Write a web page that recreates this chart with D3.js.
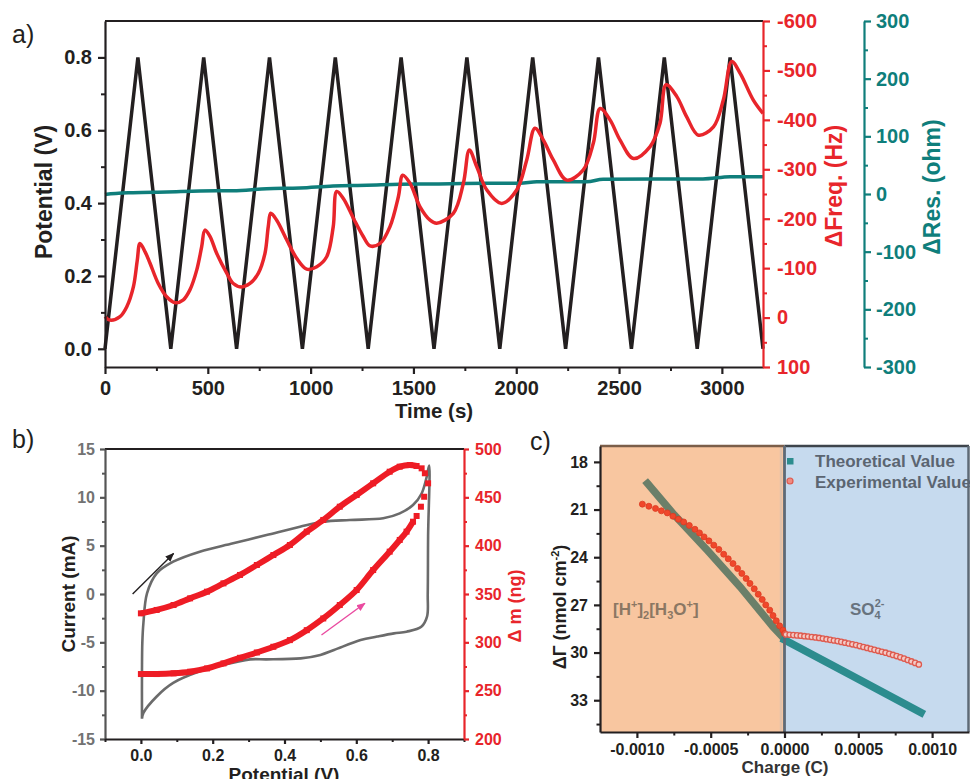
<!DOCTYPE html>
<html>
<head>
<meta charset="utf-8">
<script src="https://cdn.jsdelivr.net/npm/d3@7"></script>
<style>
body { margin: 0; background: #fff; }
svg { display: block; }
</style>
</head>
<body>
<svg id="chart" width="970" height="779"></svg>
<script>
// ---- panel a: potential / frequency / resistance vs time ----
var triTime = [0, 160, 320, 480, 640, 800, 960, 1120, 1280, 1440, 1600, 1760, 1920, 2080, 2240, 2400, 2560, 2720, 2880, 3040, 3200];
var triPot = [0, 0.8, 0, 0.8, 0, 0.8, 0, 0.8, 0, 0.8, 0, 0.8, 0, 0.8, 0, 0.8, 0, 0.8, 0, 0.8, 0];

var freqTime = [0, 24, 73, 106, 138, 157, 170, 195, 219, 259, 300, 340, 381, 413, 446, 470, 486, 511, 543, 592, 624, 665, 705, 746, 778, 794, 806, 835, 884, 932, 981, 1030, 1078, 1110, 1127, 1159, 1208, 1256, 1289, 1338, 1386, 1427, 1448, 1483, 1532, 1581, 1613, 1694, 1743, 1772, 1808, 1857, 1929, 2002, 2051, 2091, 2132, 2180, 2246, 2326, 2375, 2408, 2456, 2505, 2570, 2651, 2699, 2729, 2781, 2829, 2886, 2959, 3007, 3048, 3089, 3153, 3200];
var freqVal = [-2, 5, -2, -22, -62, -116, -150, -133, -110, -69, -42, -30, -36, -56, -96, -143, -177, -164, -130, -90, -69, -62, -69, -90, -130, -184, -211, -197, -157, -120, -98, -103, -123, -184, -255, -241, -201, -164, -145, -150, -184, -245, -288, -272, -224, -197, -191, -211, -272, -339, -305, -258, -231, -258, -319, -383, -359, -319, -278, -299, -353, -423, -400, -359, -322, -346, -393, -471, -447, -406, -369, -386, -440, -518, -494, -440, -413];

var resTime = [0, 8, 136, 300, 462, 623, 786, 948, 1109, 1273, 1435, 1581, 1857, 2018, 2100, 2343, 2422, 2665, 2908, 3040, 3200];
var resVal = [-1, -0.5, 2.3, 3.5, 5.2, 5.7, 9.2, 10.4, 13.9, 15.1, 16.8, 17.3, 18.5, 18.5, 21.3, 21.3, 25.5, 26, 26, 30, 30];

var aPotTicks = [0, 0.2, 0.4, 0.6, 0.8];
var aTimeTicks = [0, 500, 1000, 1500, 2000, 2500, 3000];
var freqTicks = [-600, -500, -400, -300, -200, -100, 0, 100];
var resTicks = [-300, -200, -100, 0, 100, 200, 300];

// ---- panel b: CV and mass change ----
var cvPot = [0.003, 0.003, 0.004, 0.007, 0.017, 0.044, 0.09, 0.164, 0.257, 0.35, 0.443, 0.508, 0.582, 0.675, 0.721, 0.758, 0.782, 0.796, 0.803, 0.8, 0.799, 0.797, 0.781, 0.74, 0.705, 0.658, 0.612, 0.538, 0.5, 0.445, 0.35, 0.304, 0.212, 0.164, 0.09, 0.044, 0.007, 0.003];
var cvCur = [-12.9, -8, -5, -3.0, 0.07, 2.14, 3.34, 4.38, 5.24, 6.1, 6.96, 7.48, 7.66, 7.83, 8.34, 9.2, 10.4, 12.1, 13.3, 6, 0, -2.35, -3.4, -3.9, -4.07, -4.4, -4.76, -5.79, -6.3, -6.66, -6.76, -6.76, -7.5, -8.0, -9.2, -10.6, -12.3, -12.9];

var massPotLow = [0, 0.044, 0.091, 0.137, 0.184, 0.23, 0.276, 0.323, 0.369, 0.415, 0.462, 0.508, 0.554, 0.601, 0.647, 0.693, 0.721, 0.74, 0.758];
var massLow = [267.2, 267.2, 267.9, 269.6, 273, 278.2, 284, 289.5, 295.4, 302.3, 312.6, 324.7, 338.6, 354.1, 374.8, 393.8, 405.9, 414.5, 424.8];
var massPotTurn = [0.768, 0.78, 0.789, 0.8, 0.791, 0.782];
var massTurn = [430.7, 440.3, 450.6, 464.5, 474.9, 480];
var massPotUp = [0.768, 0.749, 0.721, 0.693, 0.647, 0.601, 0.554, 0.508, 0.462, 0.415, 0.369, 0.323, 0.276, 0.23, 0.184, 0.137, 0.091, 0.044, 0];
var massUp = [482.4, 483.4, 481.7, 476.5, 464.5, 452.4, 440.3, 426.6, 414.5, 400.7, 390.3, 380, 369.7, 361, 352.4, 345.5, 338.6, 333.5, 330];

var bCurTicks = [-15, -10, -5, 0, 5, 10, 15];
var bPotTicks = [0, 0.2, 0.4, 0.6, 0.8];
var bMassTicks = [200, 250, 300, 350, 400, 450, 500];

// ---- panel c: surface excess vs charge ----
var theoQL = [-0.000928, -0.000746, -0.000523, -0.0003, -0.000078, 0];
var theoGL = [19.36, 21.35, 23.56, 25.87, 28.38, 29.15];
var theoQR = [0, 0.000456, 0.000925];
var theoGR = [29.2, 31.45, 33.78];

var expQL = [-0.000963, -0.000919, -0.000874, -0.000834, -0.000794, -0.000756, -0.000719, -0.000683, -0.000645, -0.000607, -0.000576, -0.000545, -0.000512, -0.000479, -0.000445, -0.000412, -0.000381, -0.000349, -0.000318, -0.000289, -0.00026, -0.000234, -0.000205, -0.000178, -0.000151, -0.000127, -0.0001, -0.000078, -0.000056, -0.000033, -0.000011, 0];
var expGL = [20.66, 20.79, 20.93, 21.08, 21.21, 21.42, 21.61, 21.78, 22.0, 22.24, 22.47, 22.72, 22.97, 23.24, 23.51, 23.81, 24.1, 24.4, 24.71, 25.02, 25.34, 25.65, 25.99, 26.33, 26.66, 27.0, 27.33, 27.67, 28.0, 28.32, 28.59, 28.8];
var expQR = [0.00001, 0.000035, 0.00006, 0.000085, 0.00011, 0.000135, 0.00016, 0.000185, 0.00021, 0.000235, 0.00026, 0.000285, 0.00031, 0.000335, 0.00036, 0.000385, 0.00041, 0.000435, 0.00046, 0.000485, 0.00051, 0.000535, 0.00056, 0.000585, 0.00061, 0.000635, 0.00066, 0.000685, 0.00071, 0.000735, 0.00076, 0.000785, 0.00081, 0.000835, 0.00086, 0.000885, 0.00091];
var expGR = [28.86, 28.88, 28.9, 28.92, 28.94, 28.97, 28.99, 29.02, 29.05, 29.08, 29.12, 29.16, 29.2, 29.24, 29.28, 29.33, 29.38, 29.43, 29.48, 29.53, 29.59, 29.65, 29.71, 29.77, 29.83, 29.89, 29.95, 30.01, 30.08, 30.15, 30.22, 30.3, 30.38, 30.47, 30.56, 30.65, 30.75];

var cGammaTicks = [18, 21, 24, 27, 30, 33];
var cChargeTicks = [-0.001, -0.0005, 0, 0.0005, 0.001];

var FONT = "'Liberation Sans', Arial, sans-serif";
var RED = "#e8252b";
var TEAL = "#0f7e7b";

var svg = d3.select("#chart");

function zip(xs, ys) { return xs.map(function (x, i) { return [x, ys[i]]; }); }

function styleAxis(g, color, fs, labelColor) {
    g.attr("font-family", FONT).attr("font-size", fs).attr("font-weight", "bold");
    g.select(".domain").attr("stroke", color).attr("stroke-width", 2.2);
    g.selectAll(".tick line").attr("stroke", color).attr("stroke-width", 2.2);
    g.selectAll(".tick text").attr("fill", labelColor || color);
}

function minorTicks(parent, axisFn, scale, vals, size, color) { // short unlabelled ticks
    parent.append("g")
        .call(axisFn(scale).tickValues(vals).tickSize(size).tickFormat(""))
        .call(function (g) {
            g.select(".domain").remove();
            g.selectAll("line").attr("stroke", color).attr("stroke-width", 2);
        });
}

function label(x, y, txt, fs, color, rotate, weight) {
    var t = svg.append("text")
        .attr("font-family", FONT).attr("font-size", fs)
        .attr("font-weight", weight || "bold").attr("fill", color)
        .attr("text-anchor", "middle")
        .attr("transform", "translate(" + x + "," + y + ")" + (rotate ? " rotate(-90)" : ""));
    t.text(txt);
    return t;
}

// =========================== panel a ===========================
var xA = d3.scaleLinear().domain([0, 3200]).range([105, 763]);
var yA = d3.scaleLinear().domain([-0.05, 0.9]).range([367, 21]);
var yF = d3.scaleLinear().domain([100, -600]).range([367, 21]);
var yR = d3.scaleLinear().domain([-300, 300]).range([367, 21]);

svg.append("line").attr("x1", 105).attr("x2", 763).attr("y1", 21).attr("y2", 21)
    .attr("stroke", "#231f20").attr("stroke-width", 2.2);

svg.append("path")
    .datum(zip(triTime, triPot))
    .attr("fill", "none").attr("stroke", "#231f20").attr("stroke-width", 3.5)
    .attr("d", d3.line().x(function (d) { return xA(d[0]); }).y(function (d) { return yA(d[1]); }));

svg.append("path")
    .datum(zip(resTime, resVal))
    .attr("fill", "none").attr("stroke", TEAL).attr("stroke-width", 3.5)
    .attr("d", d3.line().curve(d3.curveMonotoneX).x(function (d) { return xA(d[0]); }).y(function (d) { return yR(d[1]); }));

svg.append("path")
    .datum(zip(freqTime, freqVal))
    .attr("fill", "none").attr("stroke", RED).attr("stroke-width", 3.5)
    .attr("d", d3.line().curve(d3.curveCatmullRom.alpha(0.5)).x(function (d) { return xA(d[0]); }).y(function (d) { return yF(d[1]); }));

var gAL = svg.append("g").attr("transform", "translate(105,0)");
gAL.call(d3.axisLeft(yA).tickValues(aPotTicks).tickFormat(d3.format(".1f")).tickSize(7).tickPadding(6).tickSizeOuter(0));
styleAxis(gAL, "#231f20", 20);
minorTicks(gAL, d3.axisLeft, yA, [0.1, 0.3, 0.5, 0.7], 4, "#231f20");

var gAB = svg.append("g").attr("transform", "translate(0,367)");
gAB.call(d3.axisBottom(xA).tickValues(aTimeTicks).tickFormat(String).tickSize(7).tickPadding(7).tickSizeOuter(0));
styleAxis(gAB, "#231f20", 20);
minorTicks(gAB, d3.axisBottom, xA, [250, 750, 1250, 1750, 2250, 2750], 4, "#231f20");

var gAF = svg.append("g").attr("transform", "translate(763,0)");
gAF.call(d3.axisRight(yF).tickValues(freqTicks).tickFormat(String).tickSize(7).tickPadding(7).tickSizeOuter(0));
styleAxis(gAF, RED, 20);
minorTicks(gAF, d3.axisRight, yF, [-550, -450, -350, -250, -150, -50, 50], 4, RED);

var gAR = svg.append("g").attr("transform", "translate(864,0)");
gAR.call(d3.axisRight(yR).tickValues(resTicks).tickFormat(String).tickSize(7).tickPadding(5).tickSizeOuter(0));
styleAxis(gAR, TEAL, 20);
minorTicks(gAR, d3.axisRight, yR, [-250, -150, -50, 50, 150, 250], 4, TEAL);

label(12, 43, "a)", 25, "#231f20", false, "normal").attr("text-anchor", "start");
label(52, 192, "Potential (V)", 23, "#231f20", true);
label(434, 418, "Time (s)", 20.5, "#231f20", false);
label(842, 186, "\u0394Freq. (Hz)", 23, RED, true);
label(940, 187, "\u0394Res. (ohm)", 23, TEAL, true);

// =========================== panel b ===========================
var xB = d3.scaleLinear().domain([-0.1, 0.9]).range([105, 464]);
var yB = d3.scaleLinear().domain([-15, 15]).range([739, 449]);
var yM = d3.scaleLinear().domain([200, 500]).range([739, 449]);

svg.append("line").attr("x1", 105).attr("x2", 464).attr("y1", 449).attr("y2", 449)
    .attr("stroke", "#231f20").attr("stroke-width", 2);

svg.append("path")
    .datum(zip(cvPot, cvCur))
    .attr("fill", "none").attr("stroke", "#6b6b6b").attr("stroke-width", 2.6)
    .attr("d", d3.line().curve(d3.curveCatmullRom.alpha(0.5)).x(function (d) { return xB(d[0]); }).y(function (d) { return yB(d[1]); }));

var massLine = d3.line().curve(d3.curveCatmullRom.alpha(0.5))
    .x(function (d) { return xB(d[0]); }).y(function (d) { return yM(d[1]); });
[zip(massPotLow, massLow), zip(massPotUp, massUp)].forEach(function (branch) {
    svg.append("path").datum(branch)
        .attr("fill", "none").attr("stroke", "#ee1c25").attr("stroke-width", 6)
        .attr("d", massLine);
});
var massPts = zip(massPotLow, massLow).concat(zip(massPotTurn, massTurn), zip(massPotUp, massUp));
svg.append("g").selectAll("rect").data(massPts).join("rect")
    .attr("x", function (d) { return xB(d[0]) - 3; })
    .attr("y", function (d) { return yM(d[1]) - 3; })
    .attr("width", 6).attr("height", 6).attr("fill", "#ee1c25");

var defs = svg.append("defs");
[["arrBlack", "#231f20"], ["arrPink", "#ea4aa0"]].forEach(function (m) {
    defs.append("marker").attr("id", m[0]).attr("viewBox", "0 0 10 10")
        .attr("refX", 9).attr("refY", 5).attr("markerWidth", 9).attr("markerHeight", 9)
        .attr("markerUnits", "userSpaceOnUse").attr("orient", "auto")
        .append("path").attr("d", "M0,1 L10,5 L0,9 Z").attr("fill", m[1]);
});
svg.append("line")
    .attr("x1", xB(-0.023)).attr("y1", yB(0.0)).attr("x2", xB(0.091)).attr("y2", yB(4.2))
    .attr("stroke", "#231f20").attr("stroke-width", 1.4).attr("marker-end", "url(#arrBlack)");
svg.append("line")
    .attr("x1", xB(0.503)).attr("y1", yB(-4.24)).attr("x2", xB(0.624)).attr("y2", yB(-0.96))
    .attr("stroke", "#ea4aa0").attr("stroke-width", 1.4).attr("marker-end", "url(#arrPink)");

var gBL = svg.append("g").attr("transform", "translate(105,0)");
gBL.call(d3.axisLeft(yB).tickValues(bCurTicks).tickFormat(String).tickSize(5).tickPadding(5).tickSizeOuter(0));
styleAxis(gBL, "#555", 16, "#727272");
minorTicks(gBL, d3.axisLeft, yB, [-12.5, -7.5, -2.5, 2.5, 7.5, 12.5], 3, "#555");

var gBB = svg.append("g").attr("transform", "translate(0,739)");
gBB.call(d3.axisBottom(xB).tickValues(bPotTicks).tickFormat(d3.format(".1f")).tickSize(5).tickPadding(6).tickSizeOuter(0));
styleAxis(gBB, "#231f20", 16);
minorTicks(gBB, d3.axisBottom, xB, [-0.1, 0.1, 0.3, 0.5, 0.7, 0.9], 3, "#231f20");

var gBR = svg.append("g").attr("transform", "translate(464,0)");
gBR.call(d3.axisRight(yM).tickValues(bMassTicks).tickFormat(String).tickSize(5).tickPadding(6).tickSizeOuter(0));
styleAxis(gBR, RED, 16);
minorTicks(gBR, d3.axisRight, yM, [225, 275, 325, 375, 425, 475], 3, RED);

label(12, 448, "b)", 25, "#231f20", false, "normal").attr("text-anchor", "start");
label(75, 594, "Current (mA)", 19, "#231f20", true);
label(284, 781, "Potential (V)", 19, "#231f20", false);
label(521, 606, "\u0394 m (ng)", 18, RED, true);

// =========================== panel c ===========================
var xC = d3.scaleLinear().domain([-0.00125, 0.00125]).range([600, 969]);
var yC = d3.scaleLinear().domain([17, 35]).range([446, 732]);

svg.append("rect").attr("x", xC(-0.00125)).attr("y", 446).attr("width", xC(0) - xC(-0.00125)).attr("height", 286).attr("fill", "#f8c6a0");
svg.append("rect").attr("x", xC(0)).attr("y", 446).attr("width", xC(0.00125) - xC(0)).attr("height", 286).attr("fill", "#c6daee");
svg.append("line").attr("x1", xC(0) - 3.5).attr("x2", xC(0) - 3.5).attr("y1", 446).attr("y2", 732)
    .attr("stroke", "#e2c2aa").attr("stroke-width", 2.5);
svg.append("line").attr("x1", 600).attr("x2", xC(0)).attr("y1", 446).attr("y2", 446)
    .attr("stroke", "#7b5e49").attr("stroke-width", 2.6);
svg.append("line").attr("x1", xC(0)).attr("x2", 969).attr("y1", 446).attr("y2", 446)
    .attr("stroke", "#3d444b").attr("stroke-width", 2.6);
svg.append("line").attr("x1", 968.5).attr("x2", 968.5).attr("y1", 446).attr("y2", 732)
    .attr("stroke", "#5e6a76").attr("stroke-width", 2.5);

var theoLine = d3.line().x(function (d) { return xC(d[0]); }).y(function (d) { return yC(d[1]); });
svg.append("path").datum(zip(theoQL, theoGL))
    .attr("fill", "none").attr("stroke", "#6b7f69").attr("stroke-width", 7.5).attr("stroke-linecap", "square")
    .attr("d", theoLine);
svg.append("path").datum(zip(theoQR, theoGR))
    .attr("fill", "none").attr("stroke", "#2c8c8e").attr("stroke-width", 7.5).attr("stroke-linecap", "square")
    .attr("d", theoLine);

svg.append("line").attr("x1", xC(0)).attr("x2", xC(0)).attr("y1", 446).attr("y2", 732)
    .attr("stroke", "#5e6a76").attr("stroke-width", 2.8);

svg.append("g").selectAll("circle").data(zip(expQL, expGL)).join("circle")
    .attr("cx", function (d) { return xC(d[0]); }).attr("cy", function (d) { return yC(d[1]); })
    .attr("r", 3).attr("fill", "#f0472b").attr("stroke", "#dc3a22").attr("stroke-width", 0.8);
svg.append("g").selectAll("circle").data(zip(expQR, expGR)).join("circle")
    .attr("cx", function (d) { return xC(d[0]); }).attr("cy", function (d) { return yC(d[1]); })
    .attr("r", 2.7).attr("fill", "#f3cac6").attr("stroke", "#de5a4e").attr("stroke-width", 1.3);

var gCL = svg.append("g").attr("transform", "translate(600,0)");
gCL.call(d3.axisLeft(yC).tickValues(cGammaTicks).tickFormat(String).tickSize(6).tickPadding(6).tickSizeOuter(0));
styleAxis(gCL, "#231f20", 16);
minorTicks(gCL, d3.axisLeft, yC, [19.5, 22.5, 25.5, 28.5, 31.5, 34.5], 3.5, "#231f20");

var gCB = svg.append("g").attr("transform", "translate(0,732)");
gCB.call(d3.axisBottom(xC).tickValues(cChargeTicks).tickFormat(function (d) { return d.toFixed(4); }).tickSize(6).tickPadding(6).tickSizeOuter(0));
styleAxis(gCB, "#231f20", 16);
minorTicks(gCB, d3.axisBottom, xC, [-0.00075, -0.00025, 0.00025, 0.00075], 3.5, "#231f20");

// legend
svg.append("rect").attr("x", 787).attr("y", 458).attr("width", 6.5).attr("height", 6.5).attr("fill", "#2c8c8e");
svg.append("circle").attr("cx", 790).attr("cy", 481).attr("r", 3).attr("fill", "#f08a80").attr("stroke", "#de5a4e").attr("stroke-width", 1.2);
label(815, 467, "Theoretical Value", 17, "#5b6571", false).attr("text-anchor", "start");
label(815, 488, "Experimental Value", 17, "#5b6571", false).attr("text-anchor", "start");

// region annotations
var hLab = label(613, 615, "", 17, "#8b7763", false).attr("text-anchor", "start");
hLab.append("tspan").text("[H");
hLab.append("tspan").attr("font-size", 11).attr("dy", -7).text("+");
hLab.append("tspan").attr("dy", 7).text("]");
hLab.append("tspan").attr("font-size", 11).attr("dy", 4).text("2");
hLab.append("tspan").attr("dy", -4).text("[H");
hLab.append("tspan").attr("font-size", 11).attr("dy", 4).text("3");
hLab.append("tspan").attr("dy", -4).text("O");
hLab.append("tspan").attr("font-size", 11).attr("dy", -7).text("+");
hLab.append("tspan").attr("dy", 7).text("]");

var sLab = label(850, 615, "", 17, "#68737e", false).attr("text-anchor", "start");
sLab.append("tspan").text("SO");
sLab.append("tspan").attr("font-size", 11).attr("dy", 4).text("4");
sLab.append("tspan").attr("font-size", 11).attr("dx", -6).attr("dy", -12).text("2-");

label(530, 450, "c)", 25, "#231f20", false, "normal").attr("text-anchor", "start");
var gLab = label(566, 607, "", 18, "#231f20", true);
gLab.append("tspan").text("\u0394\u0393 (nmol cm");
gLab.append("tspan").attr("font-size", 11).attr("dy", -7).text("-2");
gLab.append("tspan").attr("dy", 7).text(")");
label(785, 773, "Charge (C)", 17, "#333", false);
</script>
</body>
</html>
